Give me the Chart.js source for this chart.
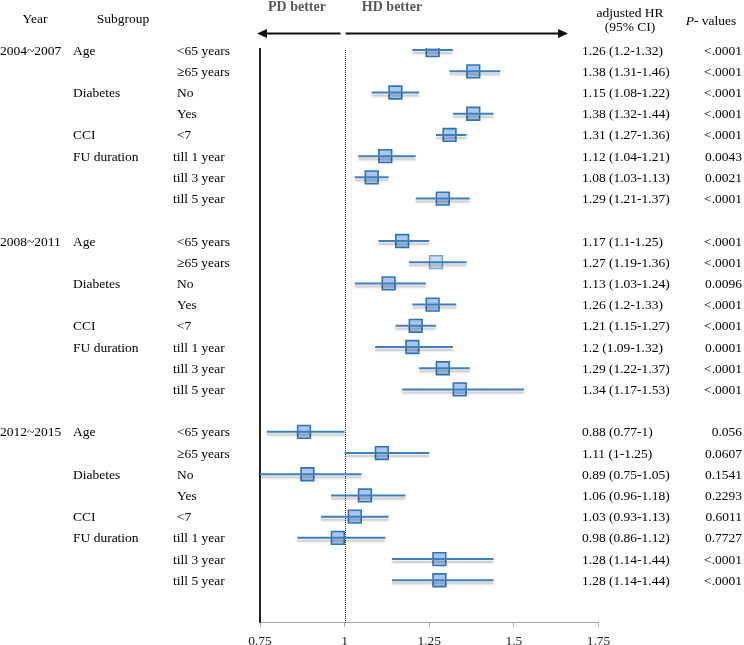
<!DOCTYPE html>
<html>
<head>
<meta charset="utf-8">
<script src="https://cdn.jsdelivr.net/npm/chart.js@4.4.0/dist/chart.umd.min.js"></script>
<style>
  html, body { margin: 0; padding: 0; background: #ffffff; overflow: hidden; }
  #wrap { width: 744px; height: 660px; }
</style>
</head>
<body>
<div id="wrap"><canvas id="c" width="744" height="660"></canvas></div>
<script>
// ---------------- data ----------------
const years = ['2004~2007', '2008~2011', '2012~2015'];
const subgroups = ['Age', '', 'Diabetes', '', 'CCI', 'FU duration', '', ''];
const levels = ['<65 years', '\u226565 years', 'No', 'Yes', '<7', 'till 1 year', 'till 3 year', 'till 5 year'];

const hr2004 = [1.26, 1.38, 1.15, 1.38, 1.31, 1.12, 1.08, 1.29];
const lo2004 = [1.2, 1.31, 1.08, 1.32, 1.27, 1.04, 1.03, 1.21];
const hi2004 = [1.32, 1.46, 1.22, 1.44, 1.36, 1.21, 1.13, 1.37];
const p2004 = ['<.0001', '<.0001', '<.0001', '<.0001', '<.0001', '0.0043', '0.0021', '<.0001'];

const hr2008 = [1.17, 1.27, 1.13, 1.26, 1.21, 1.2, 1.29, 1.34];
const lo2008 = [1.1, 1.19, 1.03, 1.2, 1.15, 1.09, 1.22, 1.17];
const hi2008 = [1.25, 1.36, 1.24, 1.33, 1.27, 1.32, 1.37, 1.53];
const p2008 = ['<.0001', '<.0001', '0.0096', '<.0001', '<.0001', '0.0001', '<.0001', '<.0001'];

const hr2012 = [0.88, 1.11, 0.89, 1.06, 1.03, 0.98, 1.28, 1.28];
const lo2012 = [0.77, 1, 0.75, 0.96, 0.93, 0.86, 1.14, 1.14];
const hi2012 = [1, 1.25, 1.05, 1.18, 1.13, 1.12, 1.44, 1.44];
const p2012 = ['0.056', '0.0607', '0.1541', '0.2293', '0.6011', '0.7727', '<.0001', '<.0001'];

const xTicks = [0.75, 1, 1.25, 1.5, 1.75];
const xTickLabels = ['0.75', '1', '1.25', '1.5', '1.75'];

// ---------------- build rows ----------------
const groupHR = [hr2004, hr2008, hr2012];
const groupLo = [lo2004, lo2008, lo2012];
const groupHi = [hi2004, hi2008, hi2012];
const groupP = [p2004, p2008, p2012];

const rows = [];
years.forEach((yr, g) => {
  levels.forEach((lv, i) => {
    rows.push({
      row: g * (levels.length + 1) + i,
      year: i === 0 ? yr : '',
      sub: subgroups[i],
      level: lv,
      hr: groupHR[g][i],
      lo: groupLo[g][i],
      hi: groupHi[g][i],
      p: groupP[g][i],
      light: (g === 1 && i === 1)
    });
  });
});

const ciData = [];
rows.forEach(r => {
  ciData.push({x: r.lo, y: r.row});
  ciData.push({x: r.hi, y: r.row});
  ciData.push({x: null, y: null});
});
const ptData = rows.map(r => ({x: r.hr, y: r.row}));

const SERIF = '"Liberation Serif", "Times New Roman", serif';
const FS = '13.5px ';

const shadowPlugin = {
  id: 'ciShadow',
  beforeDatasetDraw(chart, args) {
    if (args.index === 0) {
      const ctx = chart.ctx;
      ctx.save();
      ctx.shadowColor = 'rgba(0,0,0,0.25)';
      ctx.shadowOffsetY = 3;
      ctx.shadowBlur = 2;
    }
  },
  afterDatasetDraw(chart, args) {
    if (args.index === 0) chart.ctx.restore();
  }
};

const decorPlugin = {
  id: 'decor',
  beforeDatasetsDraw(chart) {
    const ctx = chart.ctx;
    const xs = chart.scales.x;
    const a = chart.chartArea;
    ctx.save();
    // solid left line
    ctx.strokeStyle = '#222';
    ctx.lineWidth = 2;
    ctx.beginPath();
    ctx.moveTo(a.left, a.top);
    ctx.lineTo(a.left, a.bottom);
    ctx.stroke();
    // dotted reference line at 1
    const x1 = Math.round(xs.getPixelForValue(1)) + 0.5;
    ctx.strokeStyle = '#222';
    ctx.lineWidth = 1;
    ctx.setLineDash([1, 1]);
    ctx.beginPath();
    ctx.moveTo(x1, a.top + 2);
    ctx.lineTo(x1, a.bottom);
    ctx.stroke();
    ctx.restore();
  },
  afterDraw(chart) {
    const ctx = chart.ctx;
    const xs = chart.scales.x;
    const ys = chart.scales.y;
    ctx.save();
    // arrows
    const ay = 33.5;
    const xl0 = xs.getPixelForValue(0.75) - 3;
    const xl1 = xs.getPixelForValue(1) - 4;
    const xr0 = xs.getPixelForValue(1) + 1;
    const xr1 = xs.getPixelForValue(1.66);
    ctx.strokeStyle = '#111';
    ctx.fillStyle = '#111';
    ctx.lineWidth = 2;
    ctx.beginPath();
    ctx.moveTo(xl0 + 6, ay); ctx.lineTo(xl1, ay);
    ctx.moveTo(xr0, ay); ctx.lineTo(xr1 - 6, ay);
    ctx.stroke();
    ctx.beginPath();
    ctx.moveTo(xl0, ay); ctx.lineTo(xl0 + 10, ay - 4.5); ctx.lineTo(xl0 + 10, ay + 4.5); ctx.closePath();
    ctx.fill();
    ctx.beginPath();
    ctx.moveTo(xr1, ay); ctx.lineTo(xr1 - 10, ay - 4.5); ctx.lineTo(xr1 - 10, ay + 4.5); ctx.closePath();
    ctx.fill();

    // top labels
    ctx.fillStyle = '#595959';
    ctx.font = 'bold 14px ' + SERIF;
    ctx.textAlign = 'center';
    ctx.textBaseline = 'middle';
    ctx.fillText('PD better', 297, 7);
    ctx.fillText('HD better', 392, 7);

    // headers
    ctx.fillStyle = '#000';
    ctx.font = FS + SERIF;
    ctx.fillText('Year', 35, 19);
    ctx.fillText('Subgroup', 123, 19);
    ctx.fillText('adjusted HR', 630, 13);
    ctx.fillText('(95% CI)', 630, 27);
    // P- values with italic P
    ctx.textAlign = 'left';
    ctx.font = 'italic ' + FS + SERIF;
    const pw = ctx.measureText('P').width;
    ctx.font = FS + SERIF;
    const rw = ctx.measureText('- values').width;
    const startX = 711 - (pw + rw) / 2;
    ctx.font = 'italic ' + FS + SERIF;
    ctx.fillText('P', startX, 21);
    ctx.font = FS + SERIF;
    ctx.fillText('- values', startX + pw, 21);

    // row texts
    rows.forEach(r => {
      const y = ys.getPixelForValue(r.row) + 1;
      ctx.textAlign = 'left';
      if (r.year) ctx.fillText(r.year, 0, y);
      if (r.sub) ctx.fillText(r.sub, 73, y);
      const lx = r.level.startsWith('till') ? 173 : 177;
      ctx.fillText(r.level, lx, y);
      ctx.fillText(String(r.hr) + ' (' + String(r.lo) + '-' + String(r.hi) + ')', 582, y);
      ctx.textAlign = 'right';
      ctx.fillText(r.p, 742, y);
    });
    ctx.restore();
  }
};

new Chart(document.getElementById('c'), {
  type: 'scatter',
  data: {
    datasets: [
      {
        label: 'CI',
        data: ciData,
        showLine: true,
        spanGaps: false,
        borderColor: '#3d7fbf',
        borderWidth: 2,
        pointRadius: 0,
        pointHoverRadius: 0
      },
      {
        label: 'HR',
        data: ptData,
        pointStyle: 'rect',
        pointRadius: 9,
        pointHoverRadius: 9,
        borderWidth: 1.6,
        backgroundColor: ctx => (rows[ctx.dataIndex] && rows[ctx.dataIndex].light) ? '#cfe0f2' : '#a9c6ec',
        borderColor: ctx => (rows[ctx.dataIndex] && rows[ctx.dataIndex].light) ? '#7aa6d3' : '#2f74b5'
      }
    ]
  },
  options: {
    responsive: false,
    animation: false,
    events: [],
    layout: { padding: { left: 260, right: 145.5, top: 48, bottom: 0 } },
    plugins: { legend: { display: false }, tooltip: { enabled: false } },
    scales: {
      x: {
        type: 'linear',
        min: 0.75,
        max: 1.75,
        afterBuildTicks: scale => { scale.ticks = xTicks.map(v => ({ value: v })); },
        afterFit: scale => { scale.height = 660 - 622.7; },
        ticks: {
          callback: (v) => { const i = xTicks.indexOf(v); return i >= 0 ? xTickLabels[i] : ''; },
          color: '#222',
          font: { family: SERIF, size: 13.5 },
          padding: 7,
          maxRotation: 0
        },
        grid: { drawOnChartArea: false, drawTicks: true, tickLength: 4, color: '#a6a6a6' },
        border: { display: true, color: '#a6a6a6', width: 1 }
      },
      y: {
        type: 'linear',
        display: false,
        reverse: true,
        min: -0.1,
        max: 27.0
      }
    }
  },
  plugins: [shadowPlugin, decorPlugin]
});
</script>
</body>
</html>
